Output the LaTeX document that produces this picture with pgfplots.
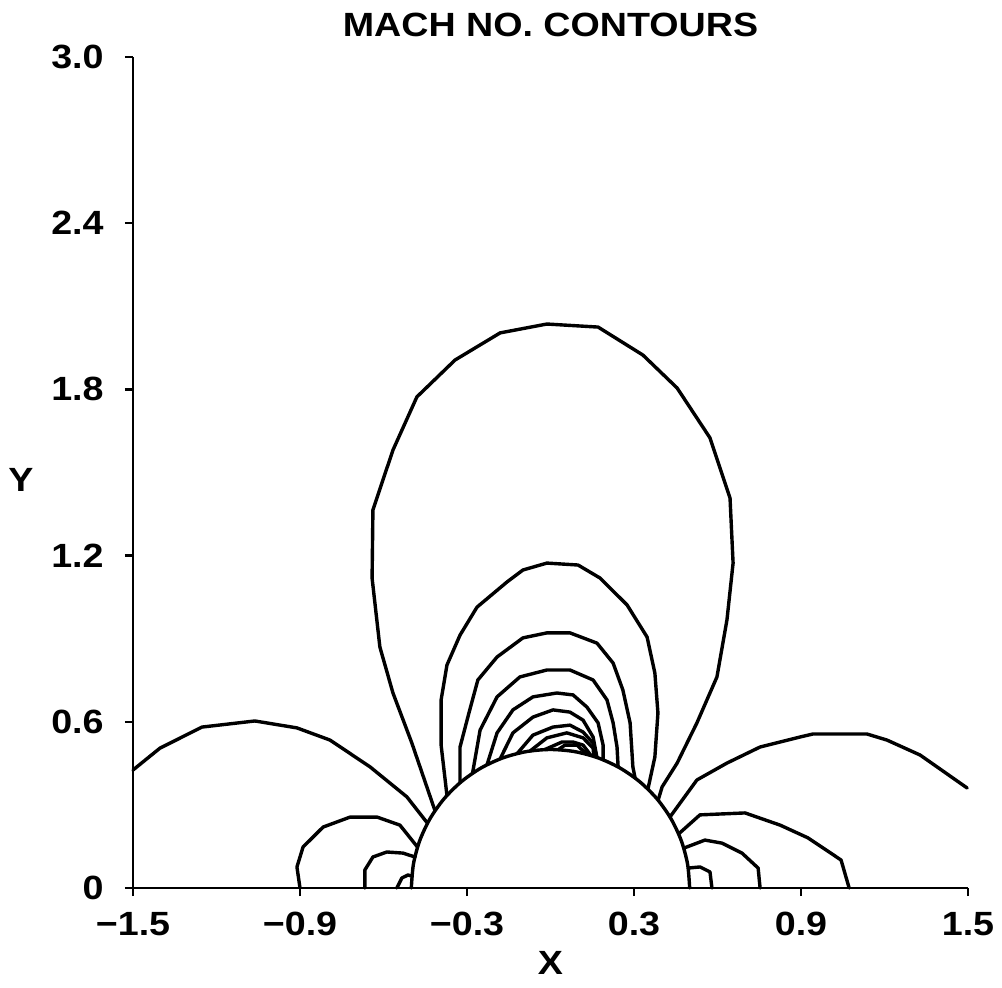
\documentclass[border=0pt]{standalone}
\usepackage{fontspec}
\setmainfont{Liberation Sans}
\newfontfamily\hv[FakeStretch=1.12]{Liberation Sans}
\usepackage{pgfplots}
\pgfplotsset{compat=1.18}
\newcommand\lab{\hv\bfseries\fontsize{16.8}{20}\selectfont}
\begin{document}
\begin{tikzpicture}
\useasboundingbox (-66.5pt,-49.5pt) rectangle (434.5pt,444pt);
\begin{axis}[name=ax, at={(0pt,0pt)}, anchor=south west, scale only axis,
  width=417.5pt, height=415.5pt,
  xmin=-1.5, xmax=1.5, ymin=0, ymax=3, clip=false,
  axis lines=left, axis line style={-, line width=1.4pt},
  xtick={-1.5,-0.9,-0.3,0.3,0.9,1.5},
  xticklabels={−1.5,−0.9,−0.3,0.3,0.9,1.5},
  ytick={0,0.6,1.2,1.8,2.4,3.0},
  yticklabels={0,0.6,1.2,1.8,2.4,3.0},
  tick align=outside, major tick length=4pt,
  tick style={black, line width=1.2pt},
  tick label style={font=\lab},
  xticklabel style={anchor=north, inner sep=0pt, yshift=-8pt},
  yticklabel style={anchor=east, inner sep=0pt, xshift=-10.5pt},
  cycle list={{black, solid, mark=none}},
  every axis plot/.append style={line width=1.7pt, line join=round, line cap=round},
]
% body (semicircle)
\addplot+[smooth] coordinates {(-0.5,0) (-0.4924,0.0868) (-0.4698,0.1710) (-0.4330,0.25) (-0.3830,0.3214) (-0.3214,0.3830) (-0.25,0.4330) (-0.1710,0.4698) (-0.0868,0.4924) (0,0.5) (0.0868,0.4924) (0.1710,0.4698) (0.25,0.4330) (0.3214,0.3830) (0.3830,0.3214) (0.4330,0.25) (0.4698,0.1710) (0.4924,0.0868) (0.5,0)};
% upper contours
\addplot coordinates {(-0.415,0.279) (-0.498,0.523) (-0.566,0.704) (-0.613,0.870) (-0.641,1.119) (-0.638,1.365) (-0.602,1.473) (-0.566,1.581) (-0.480,1.773) (-0.343,1.906) (-0.181,2.004) (-0.013,2.036) (0.171,2.025) (0.332,1.924) (0.455,1.805) (0.573,1.625) (0.645,1.408) (0.656,1.173) (0.634,0.968) (0.598,0.762) (0.526,0.596) (0.455,0.451) (0.401,0.365) (0.387,0.318)};
\addplot coordinates {(-0.372,0.334) (-0.393,0.516) (-0.393,0.679) (-0.372,0.805) (-0.325,0.913) (-0.264,1.014) (-0.156,1.105) (-0.099,1.148) (-0.013,1.173) (0.099,1.166) (0.178,1.119) (0.275,1.022) (0.347,0.906) (0.375,0.776) (0.386,0.632) (0.375,0.473) (0.350,0.357)};
\addplot coordinates {(-0.325,0.380) (-0.325,0.509) (-0.293,0.632) (-0.261,0.751) (-0.192,0.834) (-0.099,0.903) (-0.013,0.921) (0.070,0.921) (0.167,0.884) (0.225,0.812) (0.260,0.715) (0.286,0.596) (0.296,0.437) (0.304,0.397)};
\addplot coordinates {(-0.280,0.415) (-0.253,0.570) (-0.192,0.690) (-0.110,0.762) (-0.013,0.787) (0.070,0.787) (0.153,0.751) (0.203,0.679) (0.225,0.596) (0.239,0.509) (0.243,0.437)};
\addplot coordinates {(-0.228,0.445) (-0.192,0.560) (-0.135,0.643) (-0.063,0.690) (0.023,0.704) (0.081,0.697) (0.131,0.653) (0.171,0.596) (0.189,0.516) (0.189,0.463)};
\addplot coordinates {(-0.181,0.466) (-0.135,0.560) (-0.063,0.617) (0.009,0.643) (0.070,0.635) (0.117,0.606) (0.153,0.545) (0.167,0.471)};
\addplot coordinates {(-0.120,0.485) (-0.063,0.552) (0.009,0.581) (0.070,0.588) (0.117,0.563) (0.153,0.523) (0.160,0.474)};
\addplot coordinates {(-0.074,0.494) (-0.013,0.542) (0.059,0.560) (0.117,0.542) (0.153,0.505) (0.156,0.475)};
\addplot coordinates {(-0.020,0.500) (0.041,0.527) (0.081,0.527) (0.117,0.516) (0.145,0.479)};
\addplot coordinates {(0.027,0.499) (0.052,0.516) (0.095,0.516) (0.130,0.483)};
% left lobes
\addplot coordinates {(-1.500,0.426) (-1.403,0.505) (-1.252,0.581) (-1.062,0.603) (-0.911,0.578) (-0.792,0.534) (-0.648,0.437) (-0.516,0.329) (-0.442,0.234)};
\addplot coordinates {(-0.900,0) (-0.911,0.076) (-0.889,0.148) (-0.817,0.220) (-0.720,0.256) (-0.623,0.256) (-0.541,0.227) (-0.478,0.148)};
\addplot coordinates {(-0.667,0) (-0.667,0.065) (-0.638,0.112) (-0.588,0.130) (-0.530,0.126) (-0.487,0.112)};
\addplot coordinates {(-0.552,0) (-0.534,0.036) (-0.512,0.047) (-0.498,0.043)};
% right lobes
\addplot coordinates {(0.429,0.256) (0.526,0.390) (0.634,0.451) (0.753,0.509) (0.896,0.545) (0.943,0.556) (1.137,0.556) (1.209,0.534) (1.328,0.480) (1.497,0.361)};
\addplot coordinates {(0.460,0.195) (0.537,0.264) (0.699,0.271) (0.825,0.227) (0.925,0.181) (1.044,0.101) (1.073,0)};
\addplot coordinates {(0.479,0.144) (0.555,0.173) (0.616,0.162) (0.688,0.126) (0.746,0.072) (0.753,0)};
\addplot coordinates {(0.495,0.072) (0.537,0.076) (0.573,0.058) (0.580,0)};
\end{axis}
\node[font=\lab, inner sep=0pt] at ([yshift=16pt]ax.north) {MACH NO. CONTOURS};
\node[font=\lab, inner sep=0pt] at ([yshift=-37.5pt]ax.south) {X};
\node[font=\lab, inner sep=0pt] at ([xshift=-56pt,yshift=-3.75pt]ax.west) {Y};
\end{tikzpicture}
\end{document}
